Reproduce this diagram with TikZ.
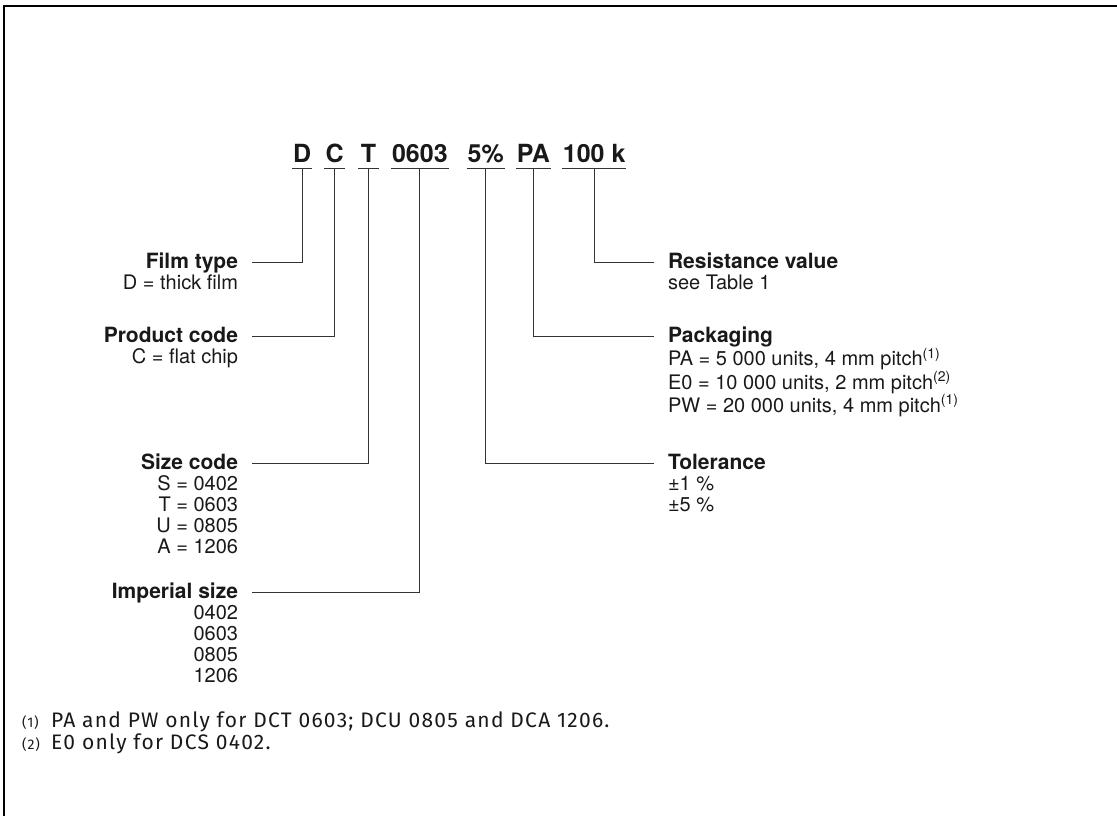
\documentclass[tikz,border=0pt]{standalone}
\usepackage{fontspec}
\setmainfont{TeX Gyre Heros}
\newfontfamily\notefont[LetterSpace=6]{Fira Sans}
\usepackage{tikz}
\usetikzlibrary{positioning}
\newcommand{\labhead}[1]{{\fontsize{21}{21}\selectfont\bfseries #1}}
\newcommand{\fnmark}[1]{\makebox[29pt][l]{\fontsize{14}{14}\selectfont #1}}
\tikzset{code/.style={font=\fontsize{25}{27}\selectfont\bfseries, inner xsep=1pt, inner ysep=0pt, outer sep=0pt, text=black!90}}
\tikzset{lbl/.style={font=\fontsize{20}{21}\selectfont, inner sep=0pt, outer sep=0pt, text=black!90}}
\tikzset{lblleft/.style={lbl, align=right, anchor=north east}}
\tikzset{lblright/.style={lbl, align=left, anchor=north west}}
\tikzset{note/.style={font=\notefont\fontsize{21}{21}\selectfont, inner sep=0pt, anchor=base west, text=black!90}}
\tikzset{wire/.style={line width=1pt, draw=black!80}}

\begin{document}
\begin{tikzpicture}[x=1pt, y=-1pt]
		\useasboundingbox (0,0) rectangle (1117,816);
		\draw[line width=2.2pt] (4,817) -- (4,6) -- (1118,6);
		
		% type code
		\node[code, minimum width=20pt, anchor=base west] (cD) at (292,162) {D};
		\node[code, minimum width=21pt] (cC) [base right=12pt of cD] {C};
		\node[code, minimum width=21pt] (cT) [base right=13pt of cC] {T};
		\node[code] (cSize) [base right=12pt of cT] {0603};
		\node[code] (cTol) [base right=18pt of cSize] {5\%};
		\node[code] (cPack) [base right=11pt of cTol] {PA};
		\node[code] (cRes) [base right=11pt of cPack] {100 k};
		\foreach \c in {cD,cC,cT,cSize,cTol,cPack,cRes}
			\draw[wire] ([yshift=-6pt]\c.base west) -- ([yshift=-6pt]\c.base east);
		
		% left labels
		\node[lblleft] (film) at (238,253) {\labhead{Film type}\\D = thick film};
		\node[lblleft] (prod) at (238,327) {\labhead{Product code}\\C = flat chip};
		\node[lblleft] (size) at (238,454) {\labhead{Size code}\\S = 0402\\T = 0603\\U = 0805\\A = 1206};
		\node[lblleft] (imp) at (238,583) {\labhead{Imperial size}\\0402\\0603\\0805\\1206};
		
		% right labels
		\node[lblright] (res) at (668,253) {\labhead{Resistance value}\\see Table 1};
		\node[lblright] (pack) at (668,327) {\labhead{Packaging}\\PA = 5 000 units, 4 mm pitch\textsuperscript{(1)}\\E0 = 10 000 units, 2 mm pitch\textsuperscript{(2)}\\PW = 20 000 units, 4 mm pitch\textsuperscript{(1)}};
		\node[lblright] (tol) at (668,454) {\labhead{Tolerance}\\±1 \%\\±5 \%};
		
		\draw[wire] ([shift={(14pt,-9pt)}]film.north east) -| ([yshift=-6pt]cD.base);
		\draw[wire] ([shift={(14pt,-9pt)}]prod.north east) -| ([yshift=-6pt]cC.base);
		\draw[wire] ([shift={(14pt,-9pt)}]size.north east) -| ([yshift=-6pt]cT.base);
		\draw[wire] ([shift={(14pt,-9pt)}]imp.north east) -| ([yshift=-6pt]cSize.base);
		\draw[wire] ([yshift=-6pt]cRes.base) |- ([shift={(-14pt,-9pt)}]res.north west);
		\draw[wire] ([yshift=-6pt]cPack.base) |- ([shift={(-14pt,-9pt)}]pack.north west);
		\draw[wire] ([yshift=-6pt]cTol.base) |- ([shift={(-14pt,-9pt)}]tol.north west);
		
		% notes
		\node[note] (fn1) at (22,727) {\fnmark{(1)}PA and PW only for DCT 0603; DCU 0805 and DCA 1206.};
		\node[note] (fn2) at (22,749) {\fnmark{(2)}E0 only for DCS 0402.};
	\end{tikzpicture}
\end{document}
